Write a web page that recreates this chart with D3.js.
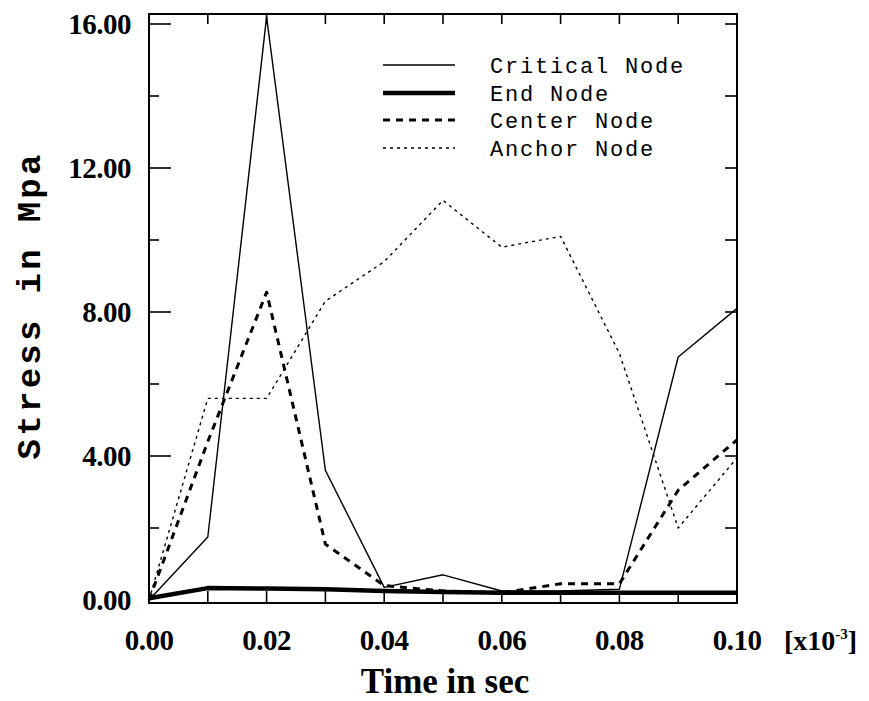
<!DOCTYPE html>
<html><head><meta charset="utf-8">
<script src="https://cdn.jsdelivr.net/npm/d3@7/dist/d3.min.js"></script>
<style>body{margin:0;background:#fff;}svg{display:block;}</style>
</head><body>
<svg id="c" width="869" height="701"></svg>
<script>
const time = [0.00,0.01,0.02,0.03,0.04,0.05,0.06,0.07,0.08,0.09,0.10];
const critical = [0.0,1.75,16.2,3.6,0.35,0.7,0.25,0.25,0.3,6.75,8.1];
const endNode = [0.05,0.33,0.32,0.3,0.25,0.22,0.2,0.2,0.2,0.2,0.2];
const center = [0.0,4.4,8.55,1.55,0.4,0.25,0.2,0.45,0.45,3.05,4.45];
const anchor = [0.0,5.6,5.6,8.3,9.4,11.1,9.8,10.1,6.85,2.0,3.95];
const yTicks = [0,4,8,12,16];
const xTicks = [0.00,0.02,0.04,0.06,0.08,0.10];
const seriesNames = ["Critical Node","End Node","Center Node","Anchor Node"];

const svg = d3.select("#c");
const x = d3.scaleLinear().domain([0,0.10]).range([149,737]);
const y = d3.scaleLinear().domain([0,16]).range([600,24]);
const yTop = 14, yBot = 603;

const styles = [
  {w:1.4, dash:null},
  {w:4.5, dash:null},
  {w:3, dash:"7,6"},
  {w:1.4, dash:"3,4"}
];
const data = [critical,endNode,center,anchor];

// frame
svg.append("rect").attr("x",x(0)).attr("y",yTop).attr("width",x(0.10)-x(0)).attr("height",yBot-yTop)
  .attr("fill","none").attr("stroke","#000").attr("stroke-width",2);

// ticks
const g = svg.append("g").attr("stroke","#000").attr("stroke-width",1.6);
d3.range(0,0.1001,0.01).forEach(t=>{
  g.append("line").attr("x1",x(t)).attr("x2",x(t)).attr("y1",yBot).attr("y2",yBot-12);
  g.append("line").attr("x1",x(t)).attr("x2",x(t)).attr("y1",yTop).attr("y2",yTop+10);
});
d3.range(2,16.01,2).forEach(v=>{
  const major = v%4===0;
  g.append("line").attr("x1",x(0)).attr("x2",x(0)+(major?22:10)).attr("y1",y(v)).attr("y2",y(v));
  g.append("line").attr("x1",x(0.10)).attr("x2",x(0.10)-12).attr("y1",y(v)).attr("y2",y(v));
});

// tick labels
svg.append("g").selectAll("text").data(yTicks).join("text")
  .attr("x",131).attr("y",d=>y(d)).attr("dy","0.35em").attr("text-anchor","end")
  .attr("font-family","Liberation Serif").attr("font-weight","bold").attr("font-size",29)
  .attr("letter-spacing",-0.5)
  .text(d=>d3.format(".2f")(d));
svg.append("g").selectAll("text").data(xTicks).join("text")
  .attr("x",d=>x(d)).attr("y",650).attr("text-anchor","middle")
  .attr("font-family","Liberation Serif").attr("font-weight","bold").attr("font-size",29)
  .attr("letter-spacing",-0.5)
  .text(d=>d3.format(".2f")(d));
const ex = svg.append("text").attr("x",784).attr("y",650)
  .attr("font-family","Liberation Serif").attr("font-weight","bold").attr("font-size",28);
ex.append("tspan").text("[x10");
ex.append("tspan").attr("dy",-11).attr("font-size",15).text("-3");
ex.append("tspan").attr("dy",11).text("]");

// axis titles
svg.append("text").attr("x",445).attr("y",693).attr("text-anchor","middle")
  .attr("font-family","Liberation Serif").attr("font-weight","bold").attr("font-size",35)
  .text("Time in sec");
svg.append("text").attr("transform","translate(40,307) rotate(-90)").attr("text-anchor","middle")
  .attr("font-family","Liberation Mono").attr("font-weight","bold").attr("font-size",34)
  .attr("textLength",305).attr("lengthAdjust","spacing")
  .text("Stress in Mpa");

// lines
const line = d3.line().x((d,i)=>x(time[i])).y(d=>y(d));
data.forEach((s,k)=>{
  svg.append("path").datum(s).attr("d",line).attr("fill","none").attr("stroke","#000")
    .attr("stroke-width",styles[k].w).attr("stroke-dasharray",styles[k].dash)
    .attr("stroke-linejoin","round");
});

// legend
const ly = [65,93,120,148];
seriesNames.forEach((n,k)=>{
  svg.append("line").attr("x1",383).attr("x2",455).attr("y1",ly[k]).attr("y2",ly[k])
    .attr("stroke","#000").attr("stroke-width",styles[k].w)
    .attr("stroke-dasharray",styles[k].dash);
  svg.append("text").attr("x",490).attr("y",ly[k]).attr("dy","0.35em")
    .attr("font-family","Liberation Mono").attr("font-size",22).attr("letter-spacing",1.8)
    .text(n);
});
</script>
</body></html>
